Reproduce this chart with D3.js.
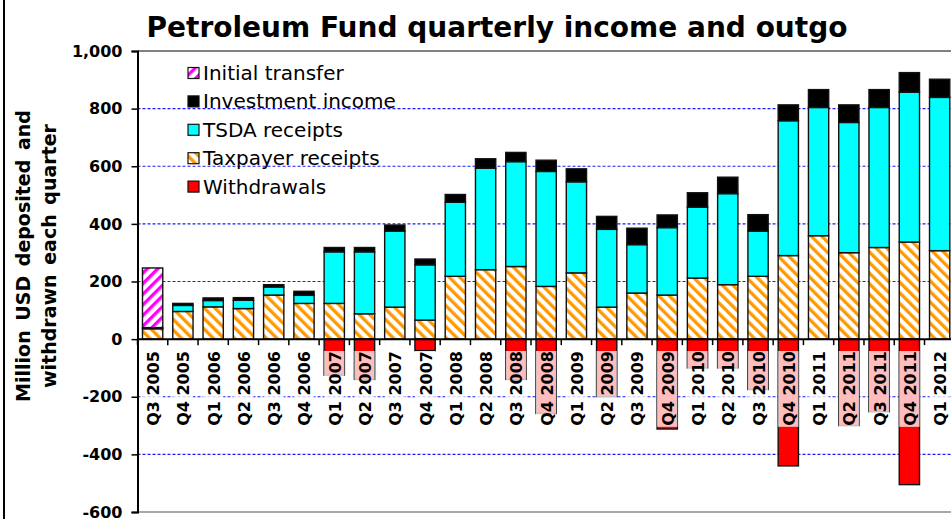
<!DOCTYPE html>
<html>
<head>
<meta charset="utf-8">
<script src="https://cdn.jsdelivr.net/npm/d3@7"></script>
<style>
  body { margin: 0; background: #fff; }
  svg { display: block; }
  text { font-family: "DejaVu Sans", Verdana, sans-serif; fill: #000; }
</style>
</head>
<body>
<svg id="chart" width="951" height="519"></svg>
<script>
// values in million USD
const quarters = [
  'Q3 2005', 'Q4 2005', 'Q1 2006', 'Q2 2006', 'Q3 2006', 'Q4 2006',
  'Q1 2007', 'Q2 2007', 'Q3 2007', 'Q4 2007', 'Q1 2008', 'Q2 2008',
  'Q3 2008', 'Q4 2008', 'Q1 2009', 'Q2 2009', 'Q3 2009', 'Q4 2009',
  'Q1 2010', 'Q2 2010', 'Q3 2010', 'Q4 2010', 'Q1 2011', 'Q2 2011',
  'Q3 2011', 'Q4 2011', 'Q1 2012'
];
const taxpayer = [36, 96, 112, 106, 153, 124, 124, 88, 111, 66, 218, 241, 252, 183,
  230, 111, 160, 153, 212, 189, 218, 290, 359, 300, 318, 337, 307];
const tsda = [0, 21, 22, 29, 28, 28, 179, 215, 264, 192, 257, 352, 364, 399,
  316, 270, 168, 234, 246, 316, 157, 468, 445, 452, 486, 520, 532];
const investment = [4, 7, 9, 9, 8, 14, 15, 15, 21, 20, 27, 33, 32, 39,
  45, 45, 57, 44, 50, 57, 57, 55, 62, 61, 62, 68, 63];
const initialTransfer = [207, 0, 0, 0, 0, 0, 0, 0, 0, 0, 0, 0, 0, 0,
  0, 0, 0, 0, 0, 0, 0, 0, 0, 0, 0, 0, 0];
const withdrawals = [0, 0, 0, 0, 0, 0, -125, -140, 0, -40, 0, 0, -140, -258,
  0, -200, 0, -312, -100, -100, -175, -440, 0, -300, -252, -505, 0];
const yTicks = [-600, -400, -200, 0, 200, 400, 600, 800, 1000];
const legendLabels = ['Initial transfer', 'Investment income', 'TSDA receipts', 'Taxpayer receipts', 'Withdrawals'];

const svg = d3.select('#chart');
const WIDTH = 951;
const LEFT = 137.5, STEP = 30.27;

const defs = svg.append('defs');
const hatch = (id, color, angle) => {
  const p = defs.append('pattern')
    .attr('id', id)
    .attr('patternUnits', 'userSpaceOnUse')
    .attr('width', 7.5).attr('height', 7.5)
    .attr('patternTransform', `rotate(${angle})`);
  p.append('rect').attr('width', 7.5).attr('height', 7.5).attr('fill', '#fff');
  p.append('rect').attr('width', 3.3).attr('height', 7.5).attr('fill', color);
};
hatch('orangeHatch', '#ff9900', -45);
hatch('magentaHatch', '#ff00ff', 45);

const fills = {
  initial: 'url(#magentaHatch)',
  investment: '#000',
  tsda: '#00ffff',
  taxpayer: 'url(#orangeHatch)',
  withdrawals: '#ff0000'
};

const y = d3.scaleLinear().domain([-600, 1000]).range([512, 51]);
const x = d3.scaleBand()
  .domain(quarters)
  .range([LEFT, LEFT + STEP * quarters.length])
  .paddingInner(0.33)
  .paddingOuter(0.165);

// left frame line
svg.append('rect').attr('x', 3).attr('y', 0).attr('width', 2).attr('height', 519).attr('fill', '#000');

// title
svg.append('text')
  .attr('x', 497).attr('y', 37)
  .attr('text-anchor', 'middle')
  .style('font-size', '28px').style('font-weight', 'bold')
  .text('Petroleum Fund quarterly income and outgo');

// y title, two lines
['Million USD deposited and', 'withdrawn each quarter'].forEach((t, i) =>
  svg.append('text')
    .attr('transform', `translate(${23 + i * 26},256) rotate(-90)`)
    .attr('text-anchor', 'middle')
    .attr('dominant-baseline', 'central')
    .style('font-size', '19px').style('font-weight', 'bold')
    .style('word-spacing', '3px')
    .text(t)
);

// grid
svg.append('g')
  .selectAll('line')
  .data(yTicks.filter(v => v !== 0 && v !== -600 && v !== 1000))
  .join('line')
  .attr('x1', LEFT).attr('x2', WIDTH)
  .attr('y1', d => y(d)).attr('y2', d => y(d))
  .attr('stroke', '#1a1aff').attr('stroke-width', 1.2)
  .attr('stroke-dasharray', '3,2');

// plot area border top and bottom
svg.append('line').attr('x1', LEFT).attr('x2', WIDTH).attr('y1', y(1000)).attr('y2', y(1000))
  .attr('stroke', '#808080').attr('stroke-width', 2);
svg.append('line').attr('x1', LEFT).attr('x2', WIDTH).attr('y1', y(-600)).attr('y2', y(-600))
  .attr('stroke', '#a8a8a8').attr('stroke-width', 2);

// stacked positive bars
const rows = quarters.map((q, i) => ({
  q, taxpayer: taxpayer[i], tsda: tsda[i], investment: investment[i], initial: initialTransfer[i]
}));
const stacked = d3.stack().keys(['taxpayer', 'tsda', 'investment', 'initial'])(rows);

const bars = svg.append('g');
bars.selectAll('g')
  .data(stacked)
  .join('g')
  .attr('fill', d => fills[d.key])
  .selectAll('rect')
  .data(d => d.filter(s => s[1] > s[0]))
  .join('rect')
  .attr('x', d => x(d.data.q))
  .attr('y', d => y(d[1]))
  .attr('width', x.bandwidth())
  .attr('height', d => y(d[0]) - y(d[1]))
  .attr('stroke', '#111').attr('stroke-width', 1.4);

// withdrawals below zero
bars.append('g')
  .selectAll('rect')
  .data(quarters.map((q, i) => ({ q, v: withdrawals[i] })).filter(d => d.v < 0))
  .join('rect')
  .attr('x', d => x(d.q))
  .attr('y', y(0))
  .attr('width', x.bandwidth())
  .attr('height', d => y(d.v) - y(0))
  .attr('fill', fills.withdrawals)
  .attr('stroke', '#111').attr('stroke-width', 1.4);

// x axis line + ticks at category boundaries
const gap = (x.step() - x.bandwidth()) / 2;
svg.append('line').attr('x1', LEFT).attr('x2', WIDTH).attr('y1', y(0)).attr('y2', y(0))
  .attr('stroke', '#000').attr('stroke-width', 2);
svg.append('g')
  .selectAll('line')
  .data(quarters.map(q => x(q) - gap).concat([x(quarters[quarters.length - 1]) + x.bandwidth() + gap]))
  .join('line')
  .attr('x1', d => d).attr('x2', d => d)
  .attr('y1', y(0)).attr('y2', y(0) + 6)
  .attr('stroke', '#000').attr('stroke-width', 1.5);

// x labels with a light backing that washes out the bars under them
const LABEL_TOP = 351;
const labels = svg.append('g')
  .selectAll('g')
  .data(quarters)
  .join('g');
labels.each(function (q) {
  const g = d3.select(this);
  const back = g.append('rect');
  const t = g.append('text')
    .attr('transform', `translate(${x(q) + x.bandwidth() / 2 + 1},${LABEL_TOP}) rotate(-90)`)
    .attr('text-anchor', 'end')
    .attr('dominant-baseline', 'central')
    .style('font-size', '16px').style('font-weight', 'bold')
    .text(q);
  const len = t.node().getComputedTextLength();
  back.attr('x', x(q)).attr('y', LABEL_TOP)
    .attr('width', x.bandwidth()).attr('height', len + 1)
    .attr('fill', '#fff').attr('opacity', 0.74);
});

// y axis
const yAxis = svg.append('g')
  .attr('transform', `translate(${LEFT},0)`)
  .call(d3.axisLeft(y)
    .tickValues(yTicks)
    .tickSize(6)
    .tickPadding(9)
    .tickFormat(d => d3.format(',')(d).replace('\u2212', '-')));
yAxis.select('.domain').attr('stroke-width', 2);
yAxis.selectAll('.tick line').attr('stroke-width', 1.5);
yAxis.selectAll('text')
  .style('font-size', '16px').style('font-weight', 'bold')
  .style('font-family', '"DejaVu Sans", Verdana, sans-serif');

// legend
const legendKeys = ['initial', 'investment', 'tsda', 'taxpayer', 'withdrawals'];
const legend = svg.append('g')
  .selectAll('g')
  .data(legendLabels)
  .join('g')
  .attr('transform', (d, i) => `translate(188,${73 + i * 28.4})`);
legend.append('rect')
  .attr('x', 0).attr('y', -5.5).attr('width', 11).attr('height', 11)
  .attr('fill', (d, i) => fills[legendKeys[i]])
  .attr('stroke', '#111').attr('stroke-width', 1.2);
legend.append('text')
  .attr('x', 15).attr('y', 0)
  .attr('dominant-baseline', 'central')
  .style('font-size', '20px')
  .text(d => d);
</script>
</body>
</html>
